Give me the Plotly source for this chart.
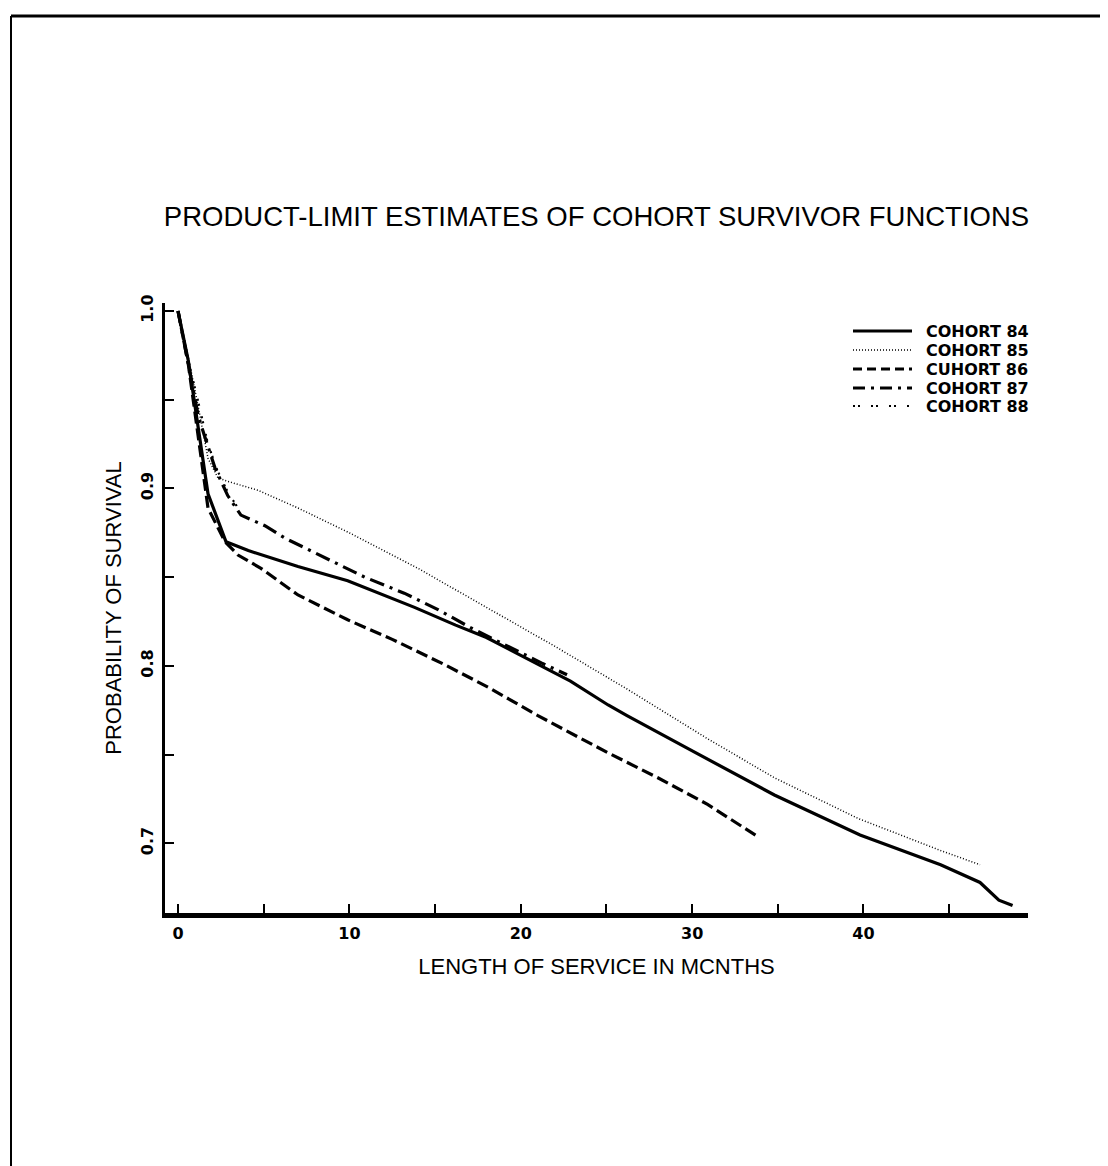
import plotly.graph_objects as go

# ---------------- data ----------------
TITLE = "PRODUCT-LIMIT ESTIMATES OF COHORT SURVIVOR FUNCTIONS"
X_TITLE = "LENGTH OF SERVICE IN MCNTHS"
Y_TITLE = "PROBABILITY OF SURVIVAL"

x_tickvals = [0, 10, 20, 30, 40]
x_ticktext = ["0", "10", "20", "30", "40"]
y_tickvals = [0.7, 0.8, 0.9, 1.0]
y_ticktext = ["0.7", "0.8", "0.9", "1.0"]

legend_labels = ["COHORT 84", "COHORT 85", "CUHORT 86", "COHORT 87", "COHORT 88"]

c84_months = [0, 0.6, 1.75, 2.8, 4.1, 7.0, 9.9, 12.2, 13.8, 16.2, 18.0, 20.0, 22.9,
              25.1, 26.2, 29.9, 34.8, 39.8, 44.5, 46.8, 47.9, 48.7]
c84_surv = [1.0, 0.972, 0.897, 0.870, 0.865, 0.856, 0.848, 0.839, 0.833, 0.823, 0.816,
            0.806, 0.7915, 0.778, 0.772, 0.7527, 0.7273, 0.7048, 0.688, 0.678, 0.668, 0.665]

c85_months = [0, 0.6, 1.2, 1.75, 2.33, 2.9, 4.66, 7.0, 10.0, 14.0, 18.0, 22.0, 26.2,
              30.9, 34.8, 39.7, 44.5, 46.8]
c85_surv = [1.0, 0.974, 0.945, 0.917, 0.906, 0.904, 0.899, 0.889, 0.875, 0.855, 0.833,
            0.811, 0.787, 0.759, 0.737, 0.714, 0.696, 0.688]

c86_months = [0, 0.6, 1.75, 2.74, 3.5, 4.84, 7.0, 9.9, 12.5, 15.5, 18.1, 21.0, 25.1,
              28.0, 30.9, 33.8]
c86_surv = [1.0, 0.970, 0.889, 0.870, 0.8625, 0.855, 0.840, 0.826, 0.815, 0.801, 0.788,
            0.772, 0.751, 0.737, 0.722, 0.704]

c87_months = [0, 0.6, 1.2, 2.16, 2.9, 3.67, 5.07, 6.24, 10.9, 13.2, 15.2, 17.1, 19.07,
              21.2, 22.7]
c87_surv = [1.0, 0.970, 0.940, 0.9115, 0.896, 0.885, 0.879, 0.872, 0.850, 0.841, 0.8316,
            0.8214, 0.8118, 0.8017, 0.795]

c88_months = [0, 0.6, 1.2, 1.75, 2.3, 2.9, 3.7]
c88_surv = [1.0, 0.972, 0.948, 0.925, 0.910, 0.898, 0.886]

# ---------------- styling ----------------
W, H = 1108, 1166
L, R, T, B = 157, 1020, 295, 905   # plot area in pixels

styles = [
    dict(width=3.2, dash="solid"),
    dict(width=1.5, dash="1px,2px"),
    dict(width=3.2, dash="12px,5px"),
    dict(width=3.2, dash="15px,6px,3px,6px"),
    dict(width=2.2, dash="2px,3px,2px,11px"),
]
legend_dashes = ["solid", "1px,2px", "9px,5px", "12px,6px,3px,6px", "2px,3px,2px,11px"]

series = [
    (c84_months, c84_surv),
    (c85_months, c85_surv),
    (c86_months, c86_surv),
    (c87_months, c87_surv),
    (c88_months, c88_surv),
]


def px_x(px):
    return (px - L) / (R - L)


def px_y(py):
    return (B - py) / (B - T)


fig = go.Figure()
for (xs, ys), st, name in zip(series, styles, legend_labels):
    fig.add_trace(go.Scatter(
        x=xs, y=ys, mode="lines", name=name, showlegend=False,
        line=dict(color="black", width=st["width"], dash=st["dash"]),
    ))

shapes = []
annotations = []

# manual legend (long line samples like the original)
leg_rows = [323, 342, 361, 380, 398]
for py, st, ld, name in zip(leg_rows, styles, legend_dashes, legend_labels):
    shapes.append(dict(type="line", xref="paper", yref="paper",
                       x0=px_x(845), x1=px_x(904), y0=px_y(py), y1=px_y(py),
                       line=dict(color="black", width=st["width"], dash=ld)))
    annotations.append(dict(xref="paper", yref="paper", x=px_x(916), y=px_y(py),
                            xanchor="left", yanchor="middle", showarrow=False,
                            text="<b>%s</b>" % name,
                            font=dict(family="DejaVu Sans", size=16, color="black")))

# page frame of the scanned sheet
shapes.append(dict(type="line", xref="paper", yref="paper",
                   x0=px_x(3), x1=px_x(1108), y0=px_y(8), y1=px_y(8),
                   line=dict(color="black", width=3)))
shapes.append(dict(type="line", xref="paper", yref="paper",
                   x0=px_x(3), x1=px_x(3), y0=px_y(8), y1=px_y(1166),
                   line=dict(color="black", width=2)))
shapes.append(dict(type="line", xref="paper", yref="paper",
                   x0=px_x(1105), x1=px_x(1105), y0=px_y(8), y1=px_y(1166),
                   line=dict(color="black", width=2)))

axis_font = dict(family="Liberation Sans", size=22, color="black")
tick_font = dict(family="DejaVu Sans", size=16, color="black", weight="bold")

fig.update_layout(
    width=W, height=H,
    margin=dict(l=L, r=W - R, t=T, b=H - B, autoexpand=False),
    paper_bgcolor="white", plot_bgcolor="white",
    title=dict(text=TITLE, x=0.5, xref="paper", y=1 - 208 / H, yref="container",
               xanchor="center", yanchor="middle",
               font=dict(family="Liberation Sans", size=27.5, color="black")),
    shapes=shapes, annotations=annotations,
    xaxis=dict(range=[-0.76, 49.6], tickvals=x_tickvals, ticktext=x_ticktext,
               ticks="inside", ticklen=9, tickwidth=2, tickcolor="black",
               minor=dict(dtick=5, tick0=0, ticks="inside", ticklen=9, tickwidth=2,
                          tickcolor="black"),
               showline=True, linewidth=5, linecolor="black", mirror=False,
               showgrid=False, zeroline=False, tickfont=tick_font,
               ticklabelstandoff=2,
               title=dict(text=X_TITLE, font=axis_font, standoff=18)),
    yaxis=dict(range=[0.6608, 1.0045], tickvals=y_tickvals, ticktext=y_ticktext,
               tickangle=-90,
               ticks="inside", ticklen=9, tickwidth=2, tickcolor="black",
               minor=dict(dtick=0.05, tick0=0.7, ticks="inside", ticklen=9, tickwidth=2,
                          tickcolor="black"),
               showline=True, linewidth=3, linecolor="black", mirror=False,
               showgrid=False, zeroline=False, tickfont=tick_font,
               ticklabelstandoff=3,
               title=dict(text=Y_TITLE, font=axis_font, standoff=10)),
)

fig.write_html("out.html")
